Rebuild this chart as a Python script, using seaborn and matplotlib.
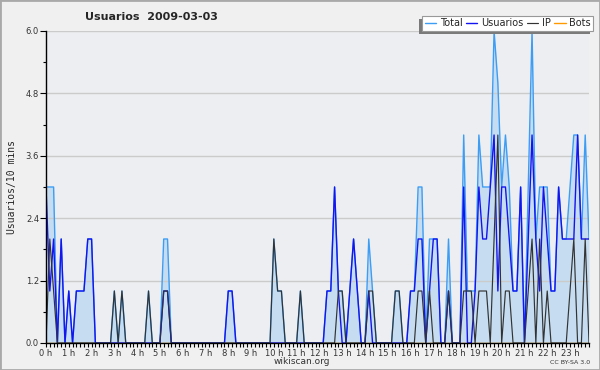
import matplotlib
matplotlib.use('Agg')
import matplotlib.pyplot as plt
from matplotlib.patches import Rectangle
from matplotlib.ticker import MultipleLocator, FixedLocator
import pandas as pd
import seaborn as sns

# users per 10 minute slot, 144 slots (00:00 .. 23:50)
total = [3, 3, 3, 0, 2, 0, 1, 0, 1, 1, 1, 2,
         2, 0, 0, 0, 0, 0, 1, 0, 1, 0, 0, 0,
         0, 0, 0, 1, 0, 0, 0, 2, 2, 0, 0, 0,
         0, 0, 0, 0, 0, 0, 0, 0, 0, 0, 0, 0,
         1, 1, 0, 0, 0, 0, 0, 0, 0, 0, 0, 0,
         2, 1, 1, 0, 0, 0, 0, 1, 0, 0, 0, 0,
         0, 0, 1, 1, 3, 1, 1, 0, 1, 2, 1, 0,
         0, 2, 1, 0, 0, 0, 0, 0, 1, 1, 0, 0,
         1, 1, 3, 3, 0, 2, 2, 2, 0, 0, 2, 0,
         0, 0, 4, 1, 1, 1, 4, 3, 3, 3, 6, 5,
         3, 4, 3, 1, 1, 3, 0, 3, 6, 2, 3, 3,
         3, 1, 1, 3, 2, 2, 3, 4, 4, 2, 4, 2]

usuarios = [3, 1, 2, 0, 2, 0, 1, 0, 1, 1, 1, 2,
            2, 0, 0, 0, 0, 0, 0, 0, 0, 0, 0, 0,
            0, 0, 0, 0, 0, 0, 0, 1, 1, 0, 0, 0,
            0, 0, 0, 0, 0, 0, 0, 0, 0, 0, 0, 0,
            1, 1, 0, 0, 0, 0, 0, 0, 0, 0, 0, 0,
            0, 0, 0, 0, 0, 0, 0, 0, 0, 0, 0, 0,
            0, 0, 1, 1, 3, 1, 0, 0, 1, 2, 1, 0,
            0, 1, 0, 0, 0, 0, 0, 0, 0, 0, 0, 0,
            1, 1, 2, 2, 0, 1, 2, 2, 0, 0, 1, 0,
            0, 0, 3, 0, 0, 1, 3, 2, 2, 3, 4, 1,
            3, 3, 2, 1, 1, 3, 0, 2, 4, 2, 1, 3,
            2, 1, 1, 3, 2, 2, 2, 2, 4, 2, 2, 2]

ip = [0, 2, 1, 0, 0, 0, 0, 0, 0, 0, 0, 0,
      0, 0, 0, 0, 0, 0, 1, 0, 1, 0, 0, 0,
      0, 0, 0, 1, 0, 0, 0, 1, 1, 0, 0, 0,
      0, 0, 0, 0, 0, 0, 0, 0, 0, 0, 0, 0,
      0, 0, 0, 0, 0, 0, 0, 0, 0, 0, 0, 0,
      2, 1, 1, 0, 0, 0, 0, 1, 0, 0, 0, 0,
      0, 0, 0, 0, 0, 1, 1, 0, 0, 0, 0, 0,
      0, 1, 1, 0, 0, 0, 0, 0, 1, 1, 0, 0,
      0, 0, 1, 1, 0, 1, 0, 0, 0, 0, 1, 0,
      0, 0, 1, 1, 1, 0, 1, 1, 1, 0, 2, 4,
      0, 1, 1, 0, 0, 0, 0, 1, 2, 0, 2, 0,
      1, 0, 0, 0, 0, 0, 1, 2, 0, 0, 2, 0]

bots = [0] * 144

hour_labels = [f'{h} h' for h in range(24)]

df = pd.DataFrame({'slot': range(len(total)), 'Total': total,
                   'Usuarios': usuarios, 'IP': ip, 'Bots': bots})

sns.set_style('white')
plt.rcParams['font.family'] = ['DejaVu Sans']

fig = plt.figure(figsize=(6, 3.7), dpi=100, facecolor='#f0f0f0')
ax = fig.add_axes([46 / 600, 1 - 343 / 370, 543 / 600, 312 / 370])
ax.set_facecolor('#eceef1')

# filled area under total, grid drawn over it but under the lines
ax.fill_between(df['slot'], df['Total'], color='#c6ddf1', lw=0, zorder=1)
sns.lineplot(data=df, x='slot', y='Bots', color='#ff9900', lw=1, label='Bots', ax=ax, zorder=2)
sns.lineplot(data=df, x='slot', y='Total', color='#3d9df5', lw=1.0, label='Total', ax=ax, zorder=2.1)
sns.lineplot(data=df, x='slot', y='Usuarios', color='#1414f0', lw=1.0, label='Usuarios', ax=ax, zorder=2.2)
sns.lineplot(data=df, x='slot', y='IP', color='#333333', lw=0.85, label='IP', ax=ax, zorder=2.3)

ax.set_xlim(0, len(total) - 1)
ax.set_ylim(0, 6)
ax.set_xlabel('')
ax.set_ylabel('Usuarios/10 mins', family='DejaVu Sans Mono', fontsize=7, labelpad=6)

ax.yaxis.set_major_locator(MultipleLocator(1.2))
ax.yaxis.set_minor_locator(MultipleLocator(0.6))
ax.yaxis.set_major_formatter(matplotlib.ticker.FormatStrFormatter('%.1f'))
ax.xaxis.set_major_locator(FixedLocator(range(0, 144, 6)))
ax.xaxis.set_minor_locator(MultipleLocator(1))
ax.set_xticklabels(hour_labels)

ax.tick_params(axis='both', which='both', direction='out', color='black',
               labelsize=6, labelcolor='#333333', width=0.8)
ax.tick_params(axis='y', which='major', length=4, pad=1)
ax.tick_params(axis='y', which='minor', length=2.5)
ax.tick_params(axis='x', which='both', length=3, pad=1)
ax.tick_params(left=True, bottom=True, which='both')

ax.set_axisbelow('line')
ax.yaxis.grid(True, color='#cbcbcb', lw=1)
for side in ['top', 'right']:
    ax.spines[side].set_visible(False)
for side in ['left', 'bottom']:
    ax.spines[side].set_color('black')
    ax.spines[side].set_linewidth(1)

handles, labels = ax.get_legend_handles_labels()
order = [labels.index(n) for n in ['Total', 'Usuarios', 'IP', 'Bots']]
leg = ax.legend([handles[i] for i in order], [labels[i] for i in order],
                loc='upper right', bbox_to_anchor=(593 / 600, 1 - 16 / 370),
                bbox_transform=fig.transFigure, ncol=4, fontsize=7,
                frameon=True, fancybox=False, framealpha=1, facecolor='white',
                handlelength=1.2, handletextpad=0.35, columnspacing=0.35,
                borderpad=0.25, borderaxespad=0)
leg.get_frame().set_edgecolor('#999999')
leg.get_frame().set_linewidth(0.8)

# dark shadow to the lower left of the legend box
fig.canvas.draw()
bb = leg.get_window_extent()
ax.add_patch(Rectangle((bb.x0 - 3, bb.y0 - 3), bb.width, bb.height, transform=None,
                       facecolor='#7a7a7a', edgecolor='none', clip_on=False, zorder=4.9))

fig.text(85 / 600, 1 - 17 / 370, 'Usuarios  2009-03-03', fontsize=8,
         fontweight='bold', ha='left', va='center')
fig.text(302 / 600, 1 - 361 / 370, 'wikiscan.org', fontsize=6.5, color='#333333',
         ha='center', va='center')
fig.text(590 / 600, 1 - 362 / 370, 'CC BY-SA 3.0', fontsize=4.5, color='#333333',
         ha='right', va='center')
fig.patches.append(Rectangle((0, 0), 1, 1, transform=fig.transFigure, fill=False,
                             edgecolor='#a9a9a9', lw=2, zorder=10))

fig.savefig('out.png', dpi=100, facecolor=fig.get_facecolor())
